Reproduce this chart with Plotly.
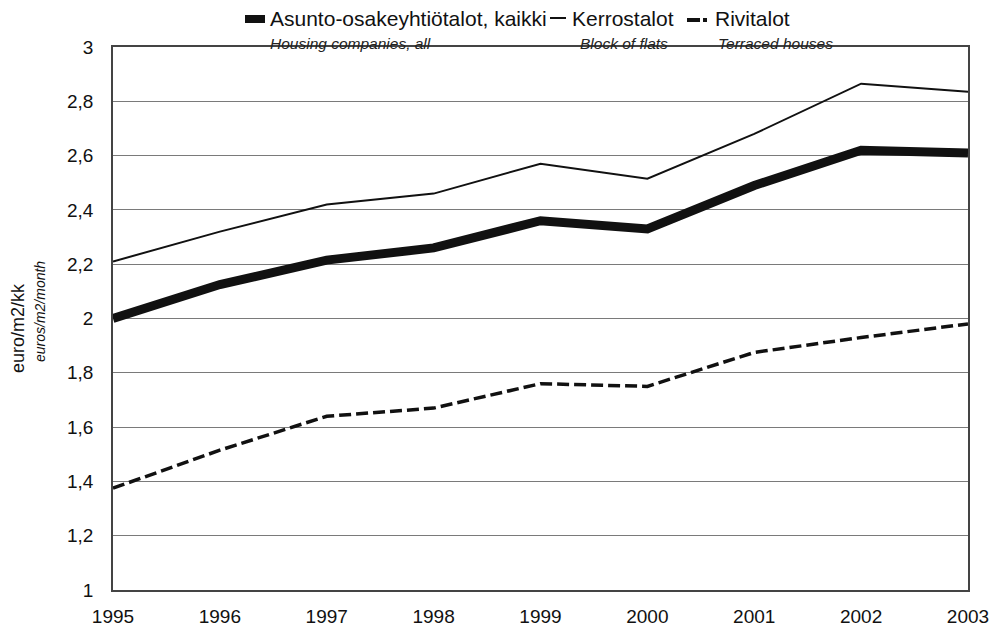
import plotly.graph_objects as go

years = [1995, 1996, 1997, 1998, 1999, 2000, 2001, 2002, 2003]
all_companies = [2.00, 2.125, 2.215, 2.26, 2.36, 2.33, 2.49, 2.62, 2.61]
block_of_flats = [2.21, 2.32, 2.42, 2.46, 2.57, 2.515, 2.68, 2.865, 2.835]
terraced = [1.375, 1.515, 1.64, 1.67, 1.76, 1.75, 1.875, 1.93, 1.98]

y_ticks = [1, 1.2, 1.4, 1.6, 1.8, 2, 2.2, 2.4, 2.6, 2.8, 3]
y_ticktext = ["1", "1,2", "1,4", "1,6", "1,8", "2", "2,2", "2,4", "2,6", "2,8", "3"]
x_ticktext = [str(y) for y in years]

names_fi = ["Asunto-osakeyhtiötalot, kaikki", "Kerrostalot", "Rivitalot"]
names_en = ["Housing companies, all", "Block of flats", "Terraced houses"]

W, H = 993, 629
L, R, T, B = 113, 25, 47, 39
PW, PH = W - L - R, H - T - B


def px(x):
    return (x - L) / PW


def py(y):
    return (H - B - y) / PH


FONT = "Liberation Sans, Arial, sans-serif"
INK = "#111111"

fig = go.Figure()
fig.add_trace(go.Scatter(x=years, y=terraced, mode="lines", name=names_fi[2],
                         line=dict(color=INK, width=3.5, dash="12px,5px")))
fig.add_trace(go.Scatter(x=years, y=block_of_flats, mode="lines", name=names_fi[1],
                         line=dict(color=INK, width=2)))
fig.add_trace(go.Scatter(x=years, y=all_companies, mode="lines", name=names_fi[0],
                         line=dict(color=INK, width=9)))

annotations = []
leg_x = [268, 570, 713]
sub_x = [268, 578, 716]
for i in range(3):
    annotations.append(dict(text=names_fi[i], x=px(leg_x[i]), y=py(19), xref="paper", yref="paper",
                            xanchor="left", yanchor="middle", showarrow=False,
                            font=dict(family=FONT, size=21, color=INK)))
    annotations.append(dict(text="<i>" + names_en[i] + "</i>", x=px(sub_x[i]), y=py(43),
                            xref="paper", yref="paper", xanchor="left", yanchor="middle",
                            showarrow=False, font=dict(family=FONT, size=15.5, color="#222")))
annotations.append(dict(text="euro/m2/kk", x=px(18), y=py(328), xref="paper", yref="paper",
                        textangle=-90, xanchor="center", yanchor="middle", showarrow=False,
                        font=dict(family=FONT, size=18, color=INK)))
annotations.append(dict(text="<i>euros/m2/month</i>", x=px(40), y=py(312), xref="paper", yref="paper",
                        textangle=-90, xanchor="center", yanchor="middle", showarrow=False,
                        font=dict(family=FONT, size=14, color=INK)))

shapes = [
    dict(type="line", xref="paper", yref="paper", x0=px(245), x1=px(265), y0=py(19), y1=py(19),
         line=dict(color=INK, width=8)),
    dict(type="line", xref="paper", yref="paper", x0=px(550), x1=px(566), y0=py(18), y1=py(18),
         line=dict(color=INK, width=2)),
    dict(type="line", xref="paper", yref="paper", x0=px(687), x1=px(700), y0=py(20), y1=py(20),
         line=dict(color=INK, width=4)),
    dict(type="line", xref="paper", yref="paper", x0=px(703), x1=px(707), y0=py(20), y1=py(20),
         line=dict(color=INK, width=4)),
]

fig.update_layout(
    width=W, height=H,
    margin=dict(l=L, r=R, t=T, b=B, autoexpand=False),
    paper_bgcolor="white", plot_bgcolor="white",
    showlegend=False,
    annotations=annotations,
    shapes=shapes,
    font=dict(family=FONT, color=INK),
)
fig.update_xaxes(range=[1995, 2003], tickvals=years, ticktext=x_ticktext, showgrid=False,
                 showline=True, linecolor="#444", linewidth=1.5, mirror=True, ticks="",
                 tickfont=dict(family=FONT, size=19, color=INK), ticklabelstandoff=8,
                 zeroline=False, automargin=False)
fig.update_yaxes(range=[1, 3], tickvals=y_ticks, ticktext=y_ticktext, showgrid=True,
                 gridcolor="#7a7a7a", gridwidth=1, showline=True, linecolor="#444", linewidth=1.5,
                 mirror=True, ticks="", tickfont=dict(family=FONT, size=19, color=INK),
                 ticklabelstandoff=14, zeroline=False, automargin=False)

fig.write_html("out.html", config={"displayModeBar": False},
               post_script="document.body.style.margin='0';document.body.style.overflow='hidden';")
